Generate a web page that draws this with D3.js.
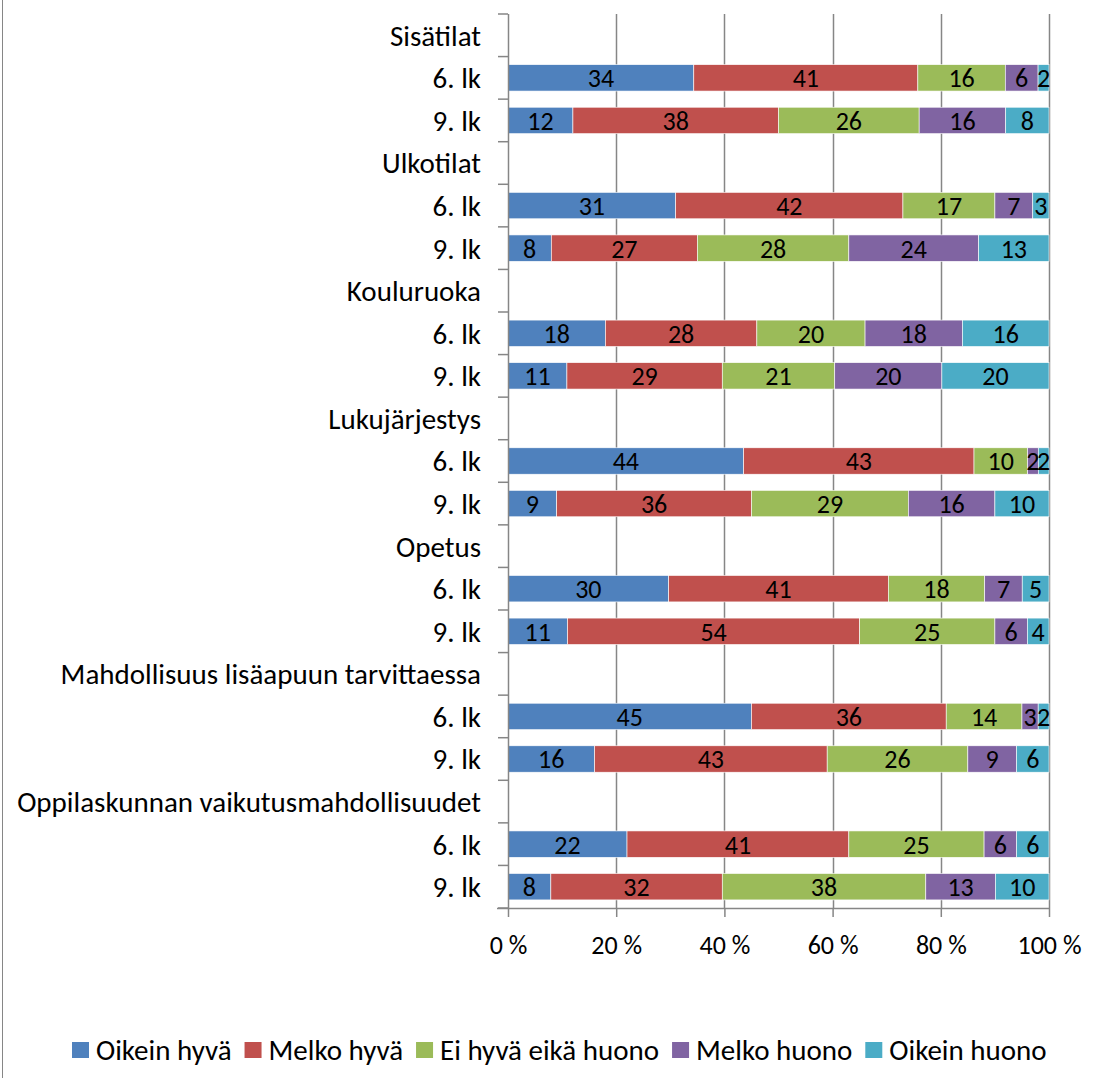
<!DOCTYPE html>
<html>
<head>
<meta charset="utf-8">
<script src="https://cdn.jsdelivr.net/npm/d3@7"></script>
<style>
  body { margin: 0; background: #fff; }
  text { font-family: Carlito, Lato, "Open Sans", sans-serif; }
</style>
</head>
<body>
<script>
var categories = ['Sisätilat', 'Ulkotilat', 'Kouluruoka', 'Lukujärjestys', 'Opetus',
    'Mahdollisuus lisäapuun tarvittaessa', 'Oppilaskunnan vaikutusmahdollisuudet'];
var grades = ['6. lk', '9. lk'];
var series = ['Oikein hyvä', 'Melko hyvä', 'Ei hyvä eikä huono', 'Melko huono', 'Oikein huono'];
var colors = ['#4F81BD', '#C0504D', '#9BBB59', '#8064A2', '#4BACC6'];
var tickLabels = ['0 %', '20 %', '40 %', '60 %', '80 %', '100 %'];

// one row of five values per category and grade (6. lk, 9. lk)
var values_6lk = [
    [34, 41, 16, 6, 2],
    [31, 42, 17, 7, 3],
    [18, 28, 20, 18, 16],
    [44, 43, 10, 2, 2],
    [30, 41, 18, 7, 5],
    [45, 36, 14, 3, 2],
    [22, 41, 25, 6, 6]
];
var values_9lk = [
    [12, 38, 26, 16, 8],
    [8, 27, 28, 24, 13],
    [11, 29, 21, 20, 20],
    [9, 36, 29, 16, 10],
    [11, 54, 25, 6, 4],
    [16, 43, 26, 9, 6],
    [8, 32, 38, 13, 10]
];

var width = 1098, height = 1082;
var plot = { left: 508, right: 1049, top: 14, bottom: 908 };
var labelSize = '29px', barSize = '26px', tickSize = '26px';

var rows = [];
categories.forEach(function(c, i) {
    rows.push({ key: c, label: c, vals: null });
    rows.push({ key: c + '|6', label: grades[0], vals: values_6lk[i] });
    rows.push({ key: c + '|9', label: grades[1], vals: values_9lk[i] });
});

var svg = d3.select('body').append('svg')
    .attr('width', width)
    .attr('height', height);

svg.append('line')
    .attr('x1', 2.5).attr('x2', 2.5)
    .attr('y1', 0).attr('y2', 1078)
    .attr('stroke', '#868686').attr('stroke-width', 1);

var x = d3.scaleLinear().domain([0, 1]).range([plot.left, plot.right]);
var y = d3.scaleBand().domain(rows.map(function(d) { return d.key; }))
    .range([plot.top, plot.bottom]).paddingInner(0.38).paddingOuter(0.19);
var color = d3.scaleOrdinal().domain(series).range(colors);

// gridlines
svg.append('g').selectAll('line')
    .data([0.2, 0.4, 0.6, 0.8, 1])
    .enter().append('line')
    .attr('x1', function(d) { return Math.round(x(d)) + 0.5; })
    .attr('x2', function(d) { return Math.round(x(d)) + 0.5; })
    .attr('y1', plot.top).attr('y2', plot.bottom)
    .attr('stroke', '#868686').attr('stroke-width', 1.5);

// bars
rows.filter(function(r) { return r.vals; }).forEach(function(r) {
    var total = d3.sum(r.vals);
    var acc = 0;
    var segs = r.vals.map(function(v, i) {
        var s = { name: series[i], v: v, x0: acc / total, x1: (acc + v) / total };
        acc += v;
        return s;
    });
    var g = svg.append('g');
    g.selectAll('rect').data(segs).enter().append('rect')
        .attr('x', function(d) { return x(d.x0); })
        .attr('width', function(d) { return x(d.x1) - x(d.x0); })
        .attr('y', y(r.key))
        .attr('height', y.bandwidth())
        .attr('fill', function(d) { return color(d.name); })
        .attr('stroke', '#fff').attr('stroke-width', 0.6);
    g.selectAll('text').data(segs).enter().append('text')
        .attr('x', function(d) { return (x(d.x0) + x(d.x1)) / 2; })
        .attr('y', y(r.key) + y.bandwidth() / 2)
        .attr('dy', '0.36em')
        .attr('text-anchor', 'middle')
        .style('font-size', barSize)
        .attr('fill', '#000')
        .text(function(d) { return d.v; });
});

// y axis
var yAxis = svg.append('g');
yAxis.append('line')
    .attr('x1', plot.left + 0.5).attr('x2', plot.left + 0.5)
    .attr('y1', plot.top).attr('y2', plot.bottom)
    .attr('stroke', '#868686').attr('stroke-width', 1.5);
var bounds = rows.map(function(d) { return y(d.key) - y.step() * y.paddingInner() / 2; });
bounds.push(plot.bottom);
yAxis.selectAll('line.tick').data(bounds).enter().append('line')
    .attr('class', 'tick')
    .attr('x1', plot.left - 10).attr('x2', plot.left)
    .attr('y1', function(d) { return d; }).attr('y2', function(d) { return d; })
    .attr('stroke', '#868686').attr('stroke-width', 1.5);
yAxis.selectAll('text').data(rows).enter().append('text')
    .attr('x', 481)
    .attr('y', function(d) { return y(d.key) + y.bandwidth() / 2; })
    .attr('dy', '0.36em')
    .attr('text-anchor', 'end')
    .style('font-size', labelSize)
    .text(function(d) { return d.label; });

// x axis
var xAxis = svg.append('g').attr('transform', 'translate(0,' + plot.bottom + ')')
    .call(d3.axisBottom(x).tickValues([0, 0.2, 0.4, 0.6, 0.8, 1])
        .tickSize(9).tickFormat(function(d, i) { return tickLabels[i]; }));
xAxis.select('.domain').attr('stroke', '#868686').attr('stroke-width', 1.5)
    .attr('d', 'M' + (plot.left - 11) + ',0.5H' + plot.right);
xAxis.selectAll('.tick line').attr('stroke', '#868686').attr('stroke-width', 1.5);
xAxis.selectAll('.tick text')
    .attr('y', 37)
    .attr('dy', '0.36em')
    .style('font-size', tickSize)
    .style('font-family', 'Carlito, Lato, "Open Sans", sans-serif')
    .attr('fill', '#000');

// legend
var legend = svg.append('g').attr('transform', 'translate(0,1050)');
var items = legend.selectAll('g').data(series).enter().append('g');
items.append('rect')
    .attr('width', 17).attr('height', 16)
    .attr('y', -8)
    .attr('fill', function(d) { return color(d); });
items.append('text')
    .attr('x', 24)
    .attr('dy', '0.36em')
    .style('font-size', labelSize)
    .text(function(d) { return d; });
var pos = 72;
items.attr('transform', function() {
    var t = 'translate(' + pos + ',0)';
    pos += this.getBBox().width + 13;
    return t;
});
</script>
</body>
</html>
